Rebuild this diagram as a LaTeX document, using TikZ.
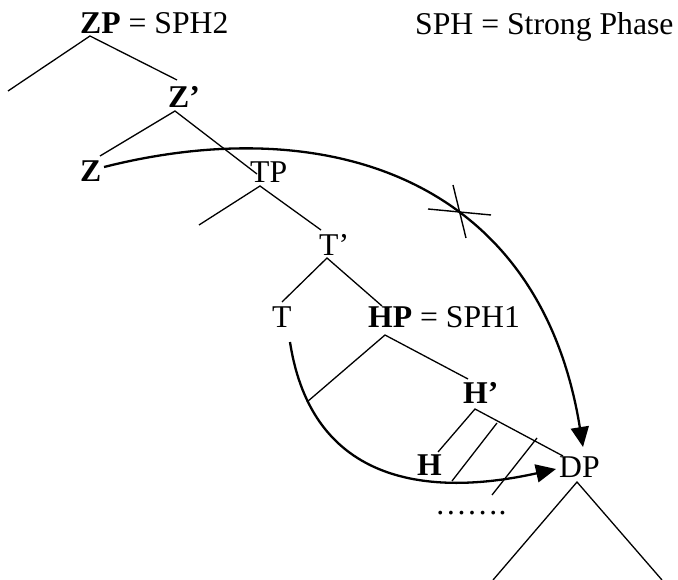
\documentclass[tikz,border=0pt]{standalone}
\usepackage{fontspec}
\setmainfont{Liberation Serif}
\usetikzlibrary{arrows.meta}
\tikzset{
  lbl/.style={anchor=base west, inner sep=0pt, font=\fontsize{31.7}{36}\selectfont},
  branch/.style={line width=1.3pt},
  move/.style={line width=2.3pt, -{Triangle[length=20pt,width=18pt]}},
  strike/.style={line width=1.4pt}
}
\begin{document}
\begin{tikzpicture}[x=1pt,y=-1pt]
\useasboundingbox (0,0) rectangle (678,580);

% labels
\node[lbl] (zp) at (80,34) {\textbf{ZP} = SPH2};
\node[lbl] (key) at (415,35) {SPH = Strong Phase};
\node[lbl] (zbar) at (168,108) {\textbf{Z’}};
\node[lbl] (z) at (80,182) {\textbf{Z}};
\node[lbl] (tp) at (250,183) {TP};
\node[lbl] (tbar) at (319,256) {T’};
\node[lbl] (t) at (272,328) {T};
\node[lbl] (hp) at (368,328) {\textbf{HP} = SPH1};
\node[lbl] (hbar) at (463,403) {\textbf{H’}};
\node[lbl] (h) at (417,475) {\textbf{H}};
\node[lbl] (dp) at (559,477) {DP};
\node[lbl] (dots) at (435,514) {…….};

% branch points
\coordinate (zpA) at (90,36);   \coordinate (zpL) at (8,91);    \coordinate (zpR) at (177,80);
\coordinate (zbA) at (175,111); \coordinate (zbL) at (100,156); \coordinate (zbR) at (257,174);
\coordinate (tpA) at (260,186); \coordinate (tpL) at (199,225); \coordinate (tpR) at (321,230);
\coordinate (tbA) at (327,258); \coordinate (tbL) at (282,302); \coordinate (tbR) at (382,306);
\coordinate (hpA) at (385,335); \coordinate (hpL) at (307,402); \coordinate (hpR) at (468,379);
\coordinate (hbA) at (475,409); \coordinate (hbL) at (438,452); \coordinate (hbR) at (563,456);
\coordinate (dpA) at (577,482); \coordinate (dpL) at (493,580); \coordinate (dpR) at (662,580);
\coordinate (p1a) at (497,423); \coordinate (p1b) at (452,481);
\coordinate (p2a) at (537,438); \coordinate (p2b) at (492,495);

% tree branches
\draw[branch] (zpL) -- (zpA) -- (zpR);
\draw[branch] (zbL) -- (zbA) -- (zbR);
\draw[branch] (tpL) -- (tpA) -- (tpR);
\draw[branch] (tbL) -- (tbA) -- (tbR);
\draw[branch] (hpL) -- (hpA) -- (hpR);
\draw[branch] (hbL) -- (hbA) -- (hbR);
\draw[branch] (dpL) -- (dpA) -- (dpR);
\draw[branch] (p1a) -- (p1b);
\draw[branch] (p2a) -- (p2b);

% movement arrows
\coordinate (zs) at (104,167);
\coordinate (dpTop) at (583,447);
\draw[move] (zs) .. controls (330,110) and (540,180) .. (dpTop);
\coordinate (ts) at (290,342);
\coordinate (dpLeft) at (556,469);
\draw[move] (ts) .. controls (312,485) and (430,497) .. (dpLeft);

% blocked path mark
\coordinate (x1a) at (453,185); \coordinate (x1b) at (466,238);
\coordinate (x2a) at (428,209); \coordinate (x2b) at (491,215);
\draw[strike] (x1a) -- (x1b);
\draw[strike] (x2a) -- (x2b);
\end{tikzpicture}
\end{document}
